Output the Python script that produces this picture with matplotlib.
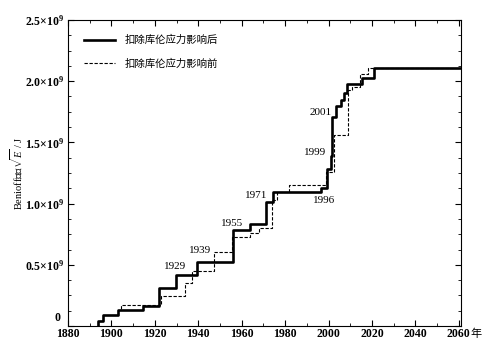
import matplotlib
matplotlib.use('Agg')
import matplotlib.pyplot as plt
from matplotlib.ticker import MultipleLocator, FuncFormatter

plt.rcParams['font.family'] = ['Liberation Serif', 'Noto Sans CJK SC']
plt.rcParams['mathtext.fontset'] = 'custom'
plt.rcParams['mathtext.rm'] = 'Liberation Serif:bold'
plt.rcParams['mathtext.it'] = 'Liberation Serif:italic'

# cumulative Benioff strain, units of 1e9 J
years_after = [1893.7, 1893.7, 1896.3, 1903.2, 1914.7, 1921.7, 1929.9, 1939.4,
               1955.9, 1964.0, 1971.2, 1974.3, 1996.3, 1999.1, 2000.9, 2001.7,
               2003.3, 2005.5, 2007.2, 2008.5, 2015.5, 2021.0, 2061.0]
strain_after = [0.0, 0.04, 0.09, 0.128, 0.166, 0.308, 0.417, 0.52,
                0.784, 0.831, 1.016, 1.092, 1.125, 1.283, 1.389, 1.71,
                1.80, 1.85, 1.905, 1.975, 2.03, 2.105, 2.105]

years_before = [1893.7, 1893.7, 1896.3, 1903.2, 1904.3, 1922.6, 1933.7, 1937.1,
                1947.4, 1955.5, 1963.7, 1967.8, 1973.9, 1976.4, 1981.7, 1998.9,
                2002.3, 2009.1, 2010.9, 2014.5, 2018.2, 2061.0]
strain_before = [0.0, 0.04, 0.09, 0.128, 0.17, 0.245, 0.354, 0.452,
                 0.602, 0.725, 0.762, 0.798, 1.03, 1.097, 1.155, 1.256,
                 1.56, 1.93, 1.955, 2.055, 2.105, 2.105]

event_labels = ['1929', '1939', '1955', '1971', '1996', '1999', '2001']
event_x = [1929.4, 1940.9, 1955.5, 1966.6, 1997.8, 1994.0, 1996.3]
event_y = [0.49, 0.613, 0.839, 1.065, 1.024, 1.419, 1.743]

fig = plt.figure(figsize=(4.94, 3.49), dpi=100)
ax = fig.add_axes([0.1377, 0.0659, 0.7955, 0.8768])

ax.step(years_after, strain_after, where='post', color='black', lw=1.9,
        label='扣除库伦应力影响后', zorder=3)
ax.step(years_before, strain_before, where='post', color='black', lw=0.8,
        linestyle=(0, (3, 1.5)), label='扣除库伦应力影响前', zorder=2)

for lab, x, y in zip(event_labels, event_x, event_y):
    ax.text(x, y, lab, ha='center', va='center', fontsize=8)

ax.set_xlim(1880, 2061)
ax.set_ylim(0, 2.5)
ax.xaxis.set_major_locator(MultipleLocator(20))
ax.xaxis.set_minor_locator(MultipleLocator(10))
ax.yaxis.set_major_locator(MultipleLocator(0.5))
ax.yaxis.set_minor_locator(MultipleLocator(0.125))


def fmt(v, pos):
    # zero is written separately, a little above the axis corner
    if v == 0:
        return ''
    return r'$%.1f{\times}10^{9}$' % v


ax.yaxis.set_major_formatter(FuncFormatter(fmt))
ax.tick_params(which='both', direction='in', top=True, right=True, labelsize=8.5)
ax.tick_params(which='major', length=4, width=0.8)
ax.tick_params(which='minor', length=2.5, width=0.6)
ax.tick_params(axis='x', pad=1.5)
ax.tick_params(axis='y', pad=3)
for t in ax.get_xticklabels() + ax.get_yticklabels():
    t.set_fontweight('bold')

ax.text(-0.018, 0.025, '0', transform=ax.transAxes, ha='right', va='center',
        fontsize=8.5, fontweight='bold')
ax.text(1.023, -0.027, '年', transform=ax.transAxes, ha='left', va='center',
        fontsize=8, family=['Noto Sans CJK SC'])

ax.set_ylabel(r'Benioff应变$\sqrt{E}$ / J', fontsize=7.5)
ax.yaxis.set_label_coords(-0.11, 0.5)

ax.legend(loc='upper left', bbox_to_anchor=(0.03, 0.965), frameon=False,
          fontsize=7.5, handlelength=3.0, handletextpad=0.9, labelspacing=1.25,
          borderaxespad=0)

fig.savefig('out.png', dpi=100)
